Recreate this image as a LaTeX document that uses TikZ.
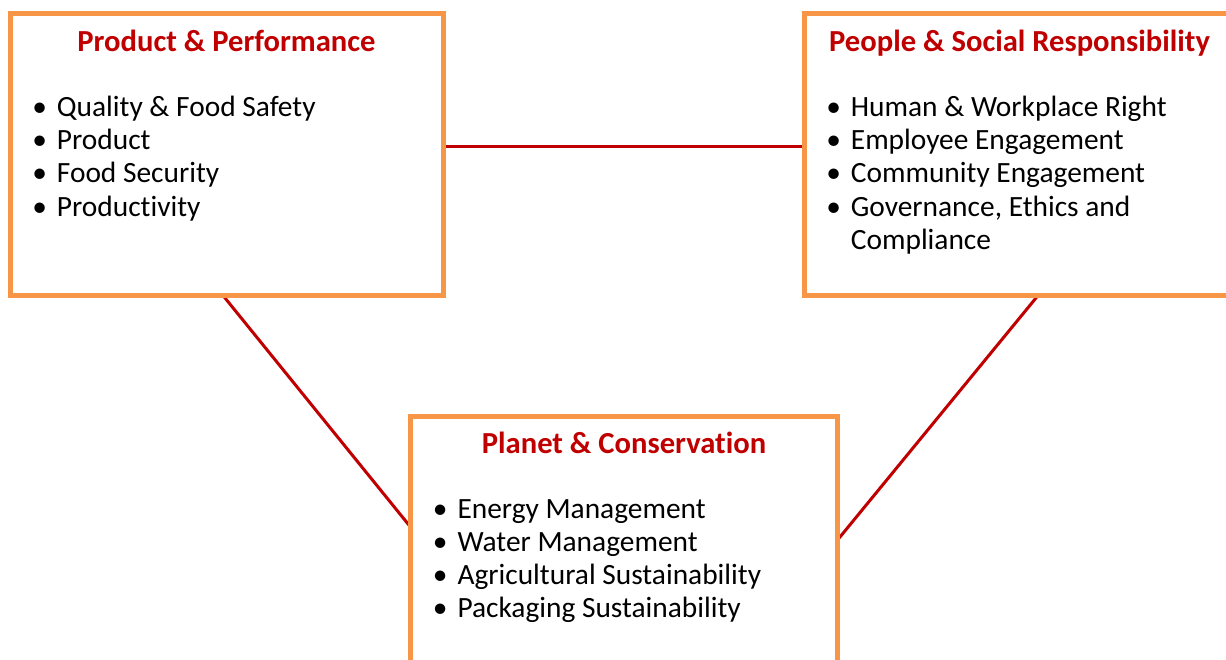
\documentclass[tikz,border=0pt]{standalone}
\usepackage{fontspec}
\setmainfont[Ligatures=CommonOff]{Carlito}
\usetikzlibrary{backgrounds}
\definecolor{boxorange}{HTML}{F79646}
\definecolor{linered}{HTML}{C00000}
\newcommand\bl{\llap{\textbullet\hspace{10pt}}}
\tikzset{
  box/.style={draw=boxorange, line width=5pt, fill=white, rectangle, inner sep=0pt, outer sep=0pt, anchor=north west},
  link/.style={draw=linered, line width=3pt},
  title/.style={text=linered, font=\fontsize{30.6}{33.2}\selectfont\bfseries, anchor=base, inner sep=0pt},
  items/.style={font=\fontsize{29.4}{33.2}\selectfont, anchor=base west, inner sep=0pt, text=black}
}
\begin{document}
\begin{tikzpicture}[x=1pt,y=-1pt]
\useasboundingbox (0,0) rectangle (1226,660);
\clip (0,0) rectangle (1226,660);
\node[box, minimum width=433.5pt, minimum height=282pt] (b1) at (10,13.5) {};
\node[box, minimum width=440pt, minimum height=281.5pt] (b2) at (804,14) {};
\node[box, minimum width=427pt, minimum height=270pt] (b3) at (410.5,416.5) {};
\begin{scope}[on background layer]
\draw[link] (b1.east |- 0,146.5) -- (b2.west |- 0,146.5);
\draw[link] (b1.south -| 223,0) -- (b3.west |- 0,527);
\draw[link] (b2.south -| 1038,0) -- (b3.east |- 0,540);
\end{scope}
\node[title] (t1) at (226.5,51.5) {Product \& Performance};
\node[title] (t2) at (1019.5,51.5) {People \& Social Responsibility};
\node[title] (t3) at (624,453) {Planet \& Conservation};
\node[items] (l1) at (56.7,116.5) {\begin{tabular}[t]{@{}l@{}}\bl Quality \& Food Safety\\ \bl Product\\ \bl Food Security\\ \bl Productivity\end{tabular}};
\node[items] (l2) at (850.7,116.5) {\begin{tabular}[t]{@{}l@{}}\bl Human \& Workplace Right\\ \bl Employee Engagement\\ \bl Community Engagement\\ \bl Governance, Ethics and\\ Compliance\end{tabular}};
\node[items] (l3) at (457.3,518.3) {\begin{tabular}[t]{@{}l@{}}\bl Energy Management\\ \bl Water Management\\ \bl Agricultural Sustainability\\ \bl Packaging Sustainability\end{tabular}};
\end{tikzpicture}
\end{document}
